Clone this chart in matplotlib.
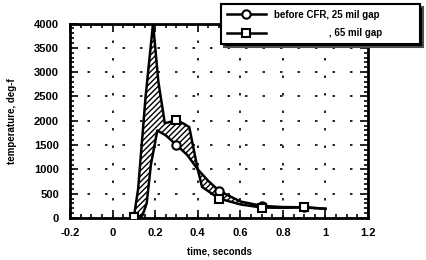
import numpy as np
import matplotlib
matplotlib.use("Agg")
import matplotlib.pyplot as plt
from matplotlib.ticker import MultipleLocator

# data
t_circle = [0.10, 0.14, 0.16, 0.18, 0.21, 0.25, 0.30, 0.35, 0.40, 0.45, 0.50, 0.60, 0.70, 0.80, 0.90, 1.00]
v_circle = [20, 50, 300, 1100, 1800, 1700, 1500, 1300, 1000, 760, 560, 340, 250, 225, 220, 190]
t_square = [0.10, 0.12, 0.155, 0.19, 0.215, 0.24, 0.245, 0.30, 0.33, 0.36, 0.40, 0.42, 0.50, 0.60, 0.70, 0.80, 0.90, 1.00]
v_square = [20, 600, 2500, 4000, 2800, 2100, 1950, 2010, 1950, 1870, 1000, 640, 400, 280, 215, 210, 220, 190]
mark_t = [0.10, 0.30, 0.50, 0.70, 0.90]
label_circle = "before CFR, 25 mil gap"
label_square = "                    , 65 mil gap"
xlim = (-0.2, 1.2)
ylim = (0, 4000)

plt.rcParams['font.family'] = ['Liberation Sans', 'DejaVu Sans']
fig = plt.figure(figsize=(4.27, 2.6), dpi=100)
ax = fig.add_axes([0.164, 0.1615, 0.698, 0.748])

tc = np.array(t_circle); vc = np.array(v_circle)
ts = np.array(t_square); vs = np.array(v_square)
grid_t = np.union1d(tc, ts)
ci = np.interp(grid_t, tc, vc)
si = np.interp(grid_t, ts, vs)
ax.fill_between(grid_t, ci, si, facecolor='white', edgecolor='black', hatch='//////', linewidth=0, zorder=2)

mc = [list(tc).index(m) for m in mark_t if m in list(tc)]
ms = [list(ts).index(m) for m in mark_t if m in list(ts)]
ax.plot(tc, vc, color='black', lw=1.8, marker='o', markevery=mc,
        ms=6, mfc='white', mec='black', mew=1.5, label=label_circle, zorder=3)
ax.plot(ts, vs, color='black', lw=1.8, marker='s', markevery=ms,
        ms=6, mfc='white', mec='black', mew=1.5, label=label_square, zorder=3)

ax.set_xlim(*xlim)
ax.set_ylim(*ylim)
ax.xaxis.set_minor_locator(MultipleLocator(0.05))
ax.yaxis.set_major_locator(MultipleLocator(500))
ax.yaxis.set_minor_locator(MultipleLocator(100))
ax.set_xticks(np.arange(-0.2, 1.21, 0.2))
ax.set_xticklabels(['-0.2', '0', '0.2', '0.4', '0.6', '0.8', '1', '1.2'])
ax.tick_params(which='both', direction='in', top=True, right=True, width=1.2)
ax.tick_params(which='major', length=6, labelsize=8)
ax.tick_params(axis='x', which='major', pad=7)
ax.tick_params(axis='y', which='major', pad=8)
ax.tick_params(which='minor', length=3)
for lab in ax.get_xticklabels() + ax.get_yticklabels():
    lab.set_fontweight('bold')
for s in ax.spines.values():
    s.set_linewidth(2)
ax.grid(True, which='major', color='black', linestyle=(0, (1.5, 9)), linewidth=1.2)
ax.set_axisbelow(True)

ax.set_xlabel('time, seconds', fontsize=7, fontweight='bold', labelpad=6)
ax.set_ylabel('temperature, deg-f', fontsize=7, fontweight='bold', labelpad=12)

leg = fig.legend(loc='upper left', bbox_to_anchor=(0.518, 0.765, 0.465, 0.22), mode='expand',
                 fontsize=7, frameon=True, fancybox=False,
                 shadow={'facecolor': 'black', 'alpha': 1.0}, handlelength=4,
                 borderaxespad=0, borderpad=0.6, labelspacing=0.9)
leg.get_frame().set_edgecolor('black')
leg.get_frame().set_linewidth(1.5)
for txt in leg.get_texts():
    txt.set_fontweight('bold')

fig.savefig('out.png', dpi=100)
